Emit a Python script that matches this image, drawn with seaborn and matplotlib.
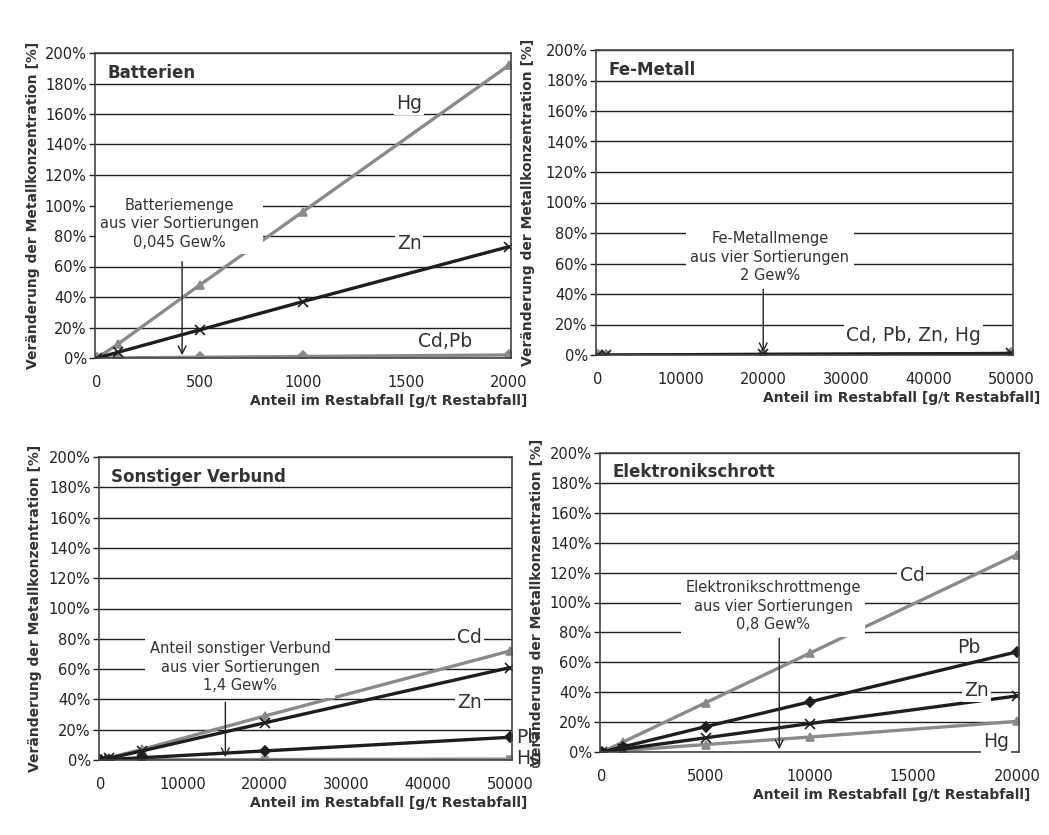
import numpy as np
import pandas as pd
import matplotlib
matplotlib.use("Agg")
import matplotlib.pyplot as plt
import seaborn as sns
from matplotlib.ticker import FuncFormatter

# Daten (Veränderung der Metallkonzentration in %)
bat_x = [0, 100, 500, 1000, 2000]
bat_hg = [0, 9, 48, 96, 192]
bat_zn = [0, 3.7, 18.5, 37, 73]
bat_cdpb = [0, 0.1, 0.5, 1, 2]

fe_x = [0, 1000, 20000, 50000]
fe_all = [0, 0, 0.4, 1]

sv_x = [0, 1000, 5000, 20000, 50000]
sv_cd = [0, 1.5, 7, 29, 72]
sv_zn = [0, 1.2, 6, 24.5, 61]
sv_pb = [0, 0.3, 1.5, 6, 15]
sv_hg = [0, 0, 0.1, 0.3, 0.6]

el_x = [0, 1000, 5000, 10000, 20000]
el_cd = [0, 6.6, 33, 66, 132]
el_pb = [0, 3.4, 17, 33.5, 67]
el_zn = [0, 1.9, 9.5, 19, 37.5]
el_hg = [0, 1, 5, 10, 20.5]

sns.set_style("white")
plt.rcParams['font.family'] = ['DejaVu Sans']

fig = plt.figure(figsize=(10.49, 8.35), dpi=100)
W, H = 1049, 835

GREY = '#8a8a8a'
BLACK = '#1e1e1e'
TXT = '#333333'


def make_ax(l, t, r, b):
    ax = fig.add_axes([l / W, 1 - b / H, (r - l) / W, (b - t) / H])
    ax.px = (l, t, r, b)
    return ax


def series(ax, x, y, color, marker, ms=6):
    df = pd.DataFrame({'x': x, 'y': y})
    sns.lineplot(data=df, x='x', y='y', ax=ax, color=color, lw=2.4,
                 marker=marker, markersize=ms, markeredgecolor=color,
                 markerfacecolor=color, mew=1.2, legend=False)


def style(ax, xmax, xticks, title, xl_right, yl_center):
    l, t, r, b = ax.px
    w, h = r - l, b - t
    ax.set_xlim(-xmax * 0.005, xmax * 1.005)
    ax.set_ylim(0, 200)
    ax.set_yticks(range(0, 201, 20))
    ax.yaxis.set_major_formatter(FuncFormatter(lambda v, p: f"{int(v)}%"))
    ax.set_xticks(xticks)
    ax.grid(axis='y', color=BLACK, lw=1.0)
    ax.set_axisbelow(True)
    for s in ax.spines.values():
        s.set_color('#444444')
        s.set_linewidth(1.2)
    ax.tick_params(axis='y', labelsize=10.5, colors='#222222', length=4,
                   direction='out', left=True, width=1, pad=2)
    ax.tick_params(axis='x', labelsize=10.5, colors='#222222', bottom=False, pad=9)
    ax.set_ylabel('Veränderung der Metallkonzentration [%]', fontsize=10,
                  fontweight='bold', color=TXT)
    ax.yaxis.set_label_coords((yl_center + 7 - l) / w, 0.5)
    ax.set_xlabel('Anteil im Restabfall [g/t Restabfall]', fontsize=10,
                  fontweight='bold', color=TXT, loc='right')
    ax.xaxis.set_label_coords((xl_right - l) / w, -36 / h)
    ax.text(0.03, 0.965, title, transform=ax.transAxes, fontsize=12,
            fontweight='bold', va='top', ha='left', color=TXT)


def marker_note(ax, xt, x, ytext, ytop, lines):
    ax.text(xt, ytext, lines, ha='center', va='bottom', fontsize=10.5,
            color=TXT, linespacing=1.3,
            bbox=dict(facecolor='white', edgecolor='none', pad=3))
    ax.annotate('', xy=(x, 0), xytext=(x, ytop),
                arrowprops=dict(arrowstyle='->', color='#222222', lw=1.0,
                                mutation_scale=14))


def label(ax, x, y, s, ha='center'):
    ax.text(x, y, s, fontsize=13.5, color=TXT, ha=ha, va='center',
            bbox=dict(facecolor='white', edgecolor='none', pad=1.5), clip_on=False)


# Batterien
ax1 = make_ax(95, 53, 511, 358)
series(ax1, bat_x, bat_cdpb, GREY, 'D', 5)
series(ax1, bat_x, bat_hg, GREY, '^', 6)
series(ax1, bat_x, bat_zn, BLACK, 'x', 7)
style(ax1, 2000, [0, 500, 1000, 1500, 2000], 'Batterien', 527, 33)
marker_note(ax1, 400, 413, 71, 65, 'Batteriemenge\naus vier Sortierungen\n0,045 Gew%')
label(ax1, 1515, 167, 'Hg')
label(ax1, 1515, 75, 'Zn')
label(ax1, 1690, 11, 'Cd,Pb')

# Fe-Metall
ax2 = make_ax(596, 50, 1013, 355)
series(ax2, fe_x, fe_all, GREY, 'D', 5)
series(ax2, fe_x, fe_all, BLACK, 'x', 7)
style(ax2, 50000, [0, 10000, 20000, 30000, 40000, 50000], 'Fe-Metall', 1040, 528)
marker_note(ax2, 20800, 20000, 47, 45, 'Fe-Metallmenge\naus vier Sortierungen\n2 Gew%')
label(ax2, 38250, 13, 'Cd, Pb, Zn, Hg')

# Sonstiger Verbund
ax3 = make_ax(99, 457, 512, 760)
series(ax3, sv_x, sv_hg, GREY, 's', 4)
series(ax3, sv_x, sv_cd, GREY, '^', 6)
series(ax3, sv_x, sv_zn, BLACK, 'x', 7)
series(ax3, sv_x, sv_pb, BLACK, 'D', 5)
style(ax3, 50000, [0, 10000, 20000, 30000, 40000, 50000], 'Sonstiger Verbund', 527, 35)
marker_note(ax3, 17000, 15200, 44, 40, 'Anteil sonstiger Verbund\naus vier Sortierungen\n1,4 Gew%')
label(ax3, 45000, 81, 'Cd')
label(ax3, 45000, 38, 'Zn')
label(ax3, 50700, 15, 'Pb', ha='left')
label(ax3, 50700, 1, 'Hg', ha='left')

# Elektronikschrott
ax4 = make_ax(600, 453, 1019, 752)
series(ax4, el_x, el_hg, GREY, '^', 6)
series(ax4, el_x, el_cd, GREY, '^', 6)
series(ax4, el_x, el_zn, BLACK, 'x', 7)
series(ax4, el_x, el_pb, BLACK, 'D', 5)
style(ax4, 20000, [0, 5000, 10000, 15000, 20000], 'Elektronikschrott', 1030, 537)
marker_note(ax4, 8260, 8540, 80, 78, 'Elektronikschrottmenge\naus vier Sortierungen\n0,8 Gew%')
label(ax4, 14940, 118, 'Cd')
label(ax4, 17660, 70, 'Pb')
label(ax4, 18040, 41, 'Zn')
label(ax4, 19000, 7, 'Hg')

fig.savefig('out.png', dpi=100, facecolor='white')
